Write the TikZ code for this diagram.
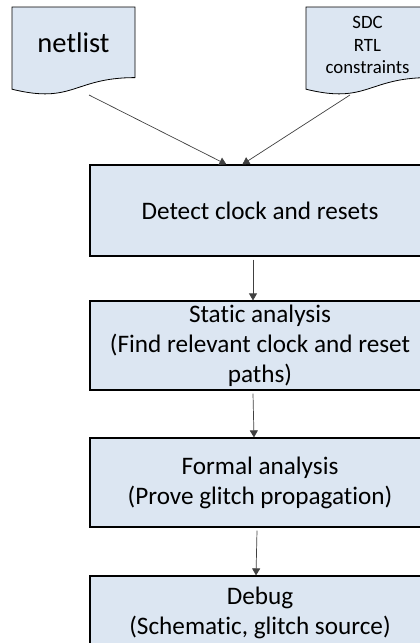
\documentclass[tikz,border=0pt]{standalone}
\usepackage{fontspec}
\setmainfont{Carlito}[Ligatures=NoCommon]
\usetikzlibrary{arrows.meta}
\definecolor{boxfill}{HTML}{DCE6F2}
\definecolor{linegray}{HTML}{404040}
\tikzset{
  stepbox/.style={draw=black, line width=1.2pt, fill=boxfill, minimum width=340pt,
    inner sep=0pt, align=center, font=\fontsize{25.2}{30}\selectfont},
  docshape/.style={draw=black, line width=0.8pt, fill=boxfill},
  doctext/.style={inner sep=0pt, align=center},
  conn/.style={draw=linegray, line width=0.7pt, -{Triangle[width=8pt,length=7pt]}},
}
\begin{document}
\begin{tikzpicture}[x=1pt, y=-1pt]
\useasboundingbox (0,0) rectangle (420,643);
\clip (0,0) rectangle (420,643);

% input documents (wavy-bottom document shapes)
\filldraw[docshape] (12,7) -- (135,7) -- (135,77.6)
  .. controls (73.5,77.6) and (73.5,104.4) .. (12,89.2) -- cycle;
\filldraw[docshape] (306,7) -- (429,7) -- (429,77.6)
  .. controls (367.5,77.6) and (367.5,104.4) .. (306,89.2) -- cycle;
\node[doctext, font=\fontsize{28.5}{34}\selectfont] (netlist) at (73.5,43) {netlist};
\node[doctext, font=\fontsize{18.8}{22.5}\selectfont] (sdc) at (367.5,45) {SDC\\RTL\\constraints};
\coordinate (netout) at (89,95);
\coordinate (sdcout) at (350,95);

% flow steps
\node[stepbox, minimum height=91pt] (detect) at (260,210.5) {Detect clock and resets};
\node[stepbox, minimum height=89pt] (static) at (260,345.5)
  {Static analysis\\(Find relevant clock and reset\\paths)};
\node[stepbox, minimum height=89pt] (formal) at (260,482.5)
  {Formal analysis\\(Prove glitch propagation)};
\node[stepbox, minimum height=73pt] (debug) at (260,612.5)
  {Debug\\(Schematic, glitch source)};

% connectors
\draw[conn] (netout) -- ([xshift=137pt]detect.north west);
\draw[conn] (sdcout) -- ([xshift=153pt]detect.north west);
\draw[conn] ([xshift=-7pt,yshift=-3pt]detect.south) -- ([xshift=-7pt]static.north);
\draw[conn] ([xshift=-7pt,yshift=-3pt]static.south) -- ([xshift=-6pt]formal.north);
\draw[conn] ([xshift=-3pt,yshift=-3pt]formal.south) -- ([xshift=-4pt]debug.north);
\end{tikzpicture}
\end{document}
